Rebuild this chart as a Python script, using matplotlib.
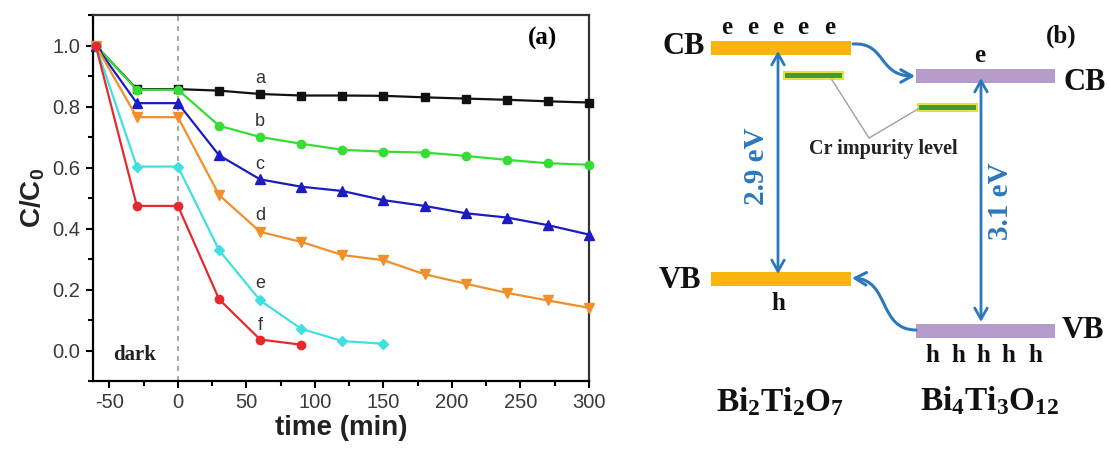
import matplotlib
matplotlib.use('Agg')
import matplotlib.pyplot as plt
from matplotlib.patches import Rectangle, FancyArrowPatch
from matplotlib.path import Path
from matplotlib.ticker import MultipleLocator

plt.rcParams['mathtext.fontset'] = 'custom'
plt.rcParams['mathtext.bf'] = 'Liberation Serif:bold'
plt.rcParams['mathtext.rm'] = 'Liberation Serif:bold'
plt.rcParams['mathtext.sf'] = 'Liberation Sans:bold'
plt.rcParams['axes.unicode_minus'] = False

# ---------------- data (panel a) ----------------
time = [-60, -30, 0, 30, 60, 90, 120, 150, 180, 210, 240, 270, 300]
a = [1.0, 0.857, 0.857, 0.852, 0.841, 0.836, 0.836, 0.835, 0.830, 0.826, 0.822, 0.817, 0.813]
b = [1.0, 0.855, 0.855, 0.737, 0.700, 0.678, 0.658, 0.652, 0.649, 0.638, 0.625, 0.614, 0.609]
c = [1.0, 0.811, 0.811, 0.640, 0.561, 0.537, 0.523, 0.493, 0.474, 0.450, 0.436, 0.411, 0.380]
d = [1.0, 0.765, 0.765, 0.510, 0.389, 0.356, 0.313, 0.296, 0.250, 0.219, 0.189, 0.164, 0.140]
time_e = [-60, -30, 0, 30, 60, 90, 120, 150]
e = [1.0, 0.603, 0.603, 0.329, 0.164, 0.071, 0.031, 0.022]
time_f = [-60, -30, 0, 30, 60, 90]
f = [1.0, 0.474, 0.474, 0.168, 0.036, 0.019]
series_labels = ['a', 'b', 'c', 'd', 'e', 'f']
x_ticks = [-50, 0, 50, 100, 150, 200, 250, 300]
y_ticks = [0.0, 0.2, 0.4, 0.6, 0.8, 1.0]

# ---------------- data (panel b: schematic text) ----------------
gap_left = '2.9 eV'
gap_right = '3.1 eV'

fig = plt.figure(figsize=(11.09, 4.51), dpi=100)

# ================= panel (a) =================
ax = fig.add_axes([93/1109, 1-381/451, (589-93)/1109, (381-15)/451])
styles = [
    (time, a, '#111111', 's', 5.5),
    (time, b, '#35DD35', 'o', 6),
    (time, c, '#1C1CC0', '^', 7),
    (time, d, '#F0902C', 'v', 7),
    (time_e, e, '#40E0E2', 'D', 5.5),
    (time_f, f, '#E42A2E', 'o', 6),
]
for xs, ys, col, mk, ms in styles:
    ax.plot(xs, ys, color=col, marker=mk, ms=ms, lw=1.6, mec=col, mfc=col, clip_on=False, zorder=3)

ax.axvline(0, color='#9a9a9a', lw=1.2, ls=(0, (3, 3)), zorder=1)
ax.set_xlim(-62, 300)
ax.set_ylim(-0.1, 1.1)
ax.set_xticks(x_ticks)
ax.set_yticks(y_ticks)
ax.xaxis.set_minor_locator(MultipleLocator(25))
ax.yaxis.set_minor_locator(MultipleLocator(0.1))
ax.set_xticklabels([str(v) for v in x_ticks])
ax.set_yticklabels(['%.1f' % v for v in y_ticks])
for lab in ax.get_xticklabels() + ax.get_yticklabels():
    lab.set_fontfamily('Liberation Sans')
    lab.set_fontsize(14.5)
    lab.set_color('#3a3a3a')
ax.tick_params(which='major', direction='out', length=5, width=1.5, pad=4)
ax.tick_params(which='minor', direction='out', length=3.5, width=1.5)
for sp in ax.spines.values():
    sp.set_linewidth(1.6)
ax.spines['top'].set_color('#333333')
ax.spines['right'].set_color('#333333')

ax.set_xlabel('time (min)', fontfamily='Liberation Sans', fontweight='bold', fontsize=20, labelpad=2, color='#222222')
ax.set_ylabel('$\\mathsf{C/C_0}$', fontsize=20, labelpad=4, color='#222222')

label_pos = [(60, 0.891), (60, 0.750), (60, 0.609), (60, 0.441), (60, 0.220), (60, 0.082)]
for lab, (lx, ly) in zip(series_labels, label_pos):
    ax.text(lx, ly, lab, fontfamily='Liberation Sans', fontsize=13, color='#333333', ha='center', va='center')
ax.text(-32, -0.016, 'dark', fontfamily='Liberation Serif', fontweight='bold', fontsize=15, ha='center', va='center', color='#222222')
ax.text(0.907, 0.935, '(a)', transform=ax.transAxes, fontfamily='Liberation Serif', fontweight='bold', fontsize=18, ha='center', va='center')

# ================= panel (b) =================
bx = fig.add_axes([640/1109, 0, 469/1109, 1])
bx.set_xlim(640, 1109)
bx.set_ylim(451, 0)
bx.axis('off')
bx.patch.set_visible(False)

orange = '#F9B50E'
purple = '#B59CCA'
blue = '#2C78BC'
serif = 'Liberation Serif'

# bands
bx.add_patch(Rectangle((711, 41), 140, 14, facecolor=orange, edgecolor='none'))
bx.add_patch(Rectangle((711, 272), 140, 14, facecolor=orange, edgecolor='none'))
bx.add_patch(Rectangle((916, 69), 139, 14, facecolor=purple, edgecolor='none'))
bx.add_patch(Rectangle((916, 324), 139, 14, facecolor=purple, edgecolor='none'))
# impurity levels
bx.add_patch(Rectangle((784, 72), 59, 7, facecolor='#3A9E2E', edgecolor='#E4E03C', lw=1.5))
bx.add_patch(Rectangle((918, 104), 59, 7, facecolor='#3A9E2E', edgecolor='#E4E03C', lw=1.5))

# guide lines to label
bx.plot([832, 869, 918], [80, 138, 109], color='#a0a0a0', lw=1.0)
bx.text(883, 149, 'Cr impurity level', fontfamily=serif, fontweight='bold', fontsize=14.5, ha='center', va='center', color='#222222')

# band gap arrows
for x0, y0, y1 in [(778, 51, 274), (981, 78, 322)]:
    bx.add_patch(FancyArrowPatch((x0, y1), (x0, y0), arrowstyle='<->,head_length=0.8,head_width=0.45',
                                 mutation_scale=10, lw=2.0, color=blue, shrinkA=0, shrinkB=0))
bx.text(756, 166, gap_left, rotation=90, fontfamily=serif, fontweight='bold', fontsize=21, color=blue, ha='center', va='center')
bx.text(1001, 201, gap_right, rotation=90, fontfamily=serif, fontweight='bold', fontsize=21, color=blue, ha='center', va='center')

# charge transfer arrows
p1 = Path([(853, 44), (886, 42), (878, 76), (915, 76)], [Path.MOVETO, Path.CURVE4, Path.CURVE4, Path.CURVE4])
bx.add_patch(FancyArrowPatch(path=p1, arrowstyle='->,head_length=0.8,head_width=0.45', mutation_scale=10, lw=2.2, color=blue))
p2 = Path([(916, 330), (878, 330), (890, 280), (852, 278)], [Path.MOVETO, Path.CURVE4, Path.CURVE4, Path.CURVE4])
bx.add_patch(FancyArrowPatch(path=p2, arrowstyle='->,head_length=0.8,head_width=0.45', mutation_scale=10, lw=2.2, color=blue))

# labels
tk = dict(fontfamily=serif, fontweight='bold', color='#111111', ha='center', va='center')
bx.text(684, 46, 'CB', fontsize=22, **tk)
bx.text(1085, 83, 'CB', fontsize=22, **tk)
bx.text(680, 281, 'VB', fontsize=22, **tk)
bx.text(1083, 330, 'VB', fontsize=22, **tk)
for ex in [727, 753, 778, 803, 830]:
    bx.text(ex, 28, 'e', fontsize=18, **tk)
bx.text(980, 56, 'e', fontsize=18, **tk)
bx.text(778, 304, 'h', fontsize=18, **tk)
for hx in [932, 958, 983, 1008, 1035]:
    bx.text(hx, 356, 'h', fontsize=18, **tk)
bx.text(1061, 36, '(b)', fontsize=18, **tk)
bx.text(780, 411, '$\\mathbf{Bi_2Ti_2O_7}$', fontsize=24, ha='center', va='baseline', color='#111111')
bx.text(990, 410, '$\\mathbf{Bi_4Ti_3O_{12}}$', fontsize=24, ha='center', va='baseline', color='#111111')

fig.savefig('out.png', dpi=100)
